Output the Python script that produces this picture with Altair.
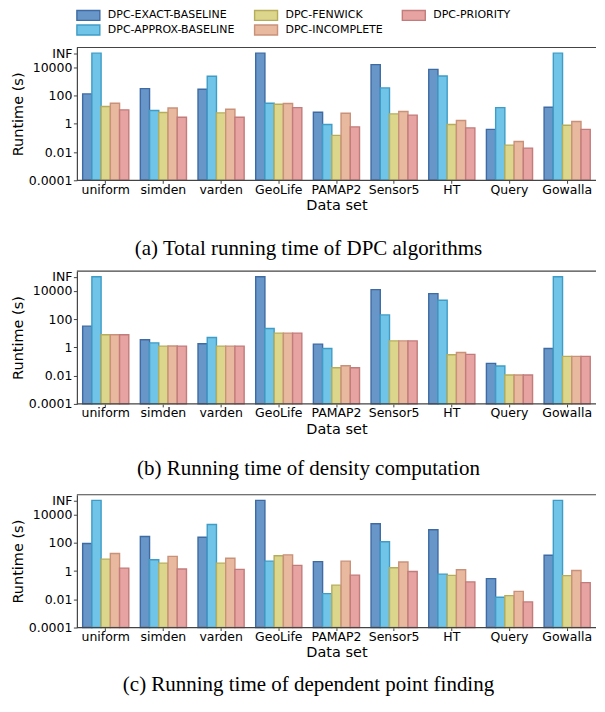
import altair as alt
import pandas as pd

datasets = ["uniform", "simden", "varden", "GeoLife", "PAMAP2", "Sensor5", "HT", "Query", "Gowalla"]
methods = ["DPC-EXACT-BASELINE", "DPC-APPROX-BASELINE", "DPC-FENWICK", "DPC-INCOMPLETE", "DPC-PRIORITY"]
INF = 1e5  # bars drawn up to the "INF" tick

# (a) Total running time
total_exact = [130, 310, 275, INF, 6.6, 15500, 7100, 0.40, 14.8]
total_approx = [INF, 8.7, 2300, 28.5, 0.89, 345, 2400, 14, INF]
total_fenwick = [16.6, 6.3, 5.9, 24, 0.15, 5.0, 0.89, 0.031, 0.79]
total_incomplete = [28.5, 13, 10.7, 27, 5.6, 7.4, 1.7, 0.056, 1.45]
total_priority = [9.6, 2.9, 2.9, 14, 0.6, 4.1, 0.51, 0.019, 0.40]

# (b) Density computation
dens_exact = [32, 3.5, 1.8, INF, 1.7, 12300, 6400, 0.074, 0.83]
dens_approx = [INF, 2.1, 5.0, 22, 0.83, 200, 2200, 0.048, INF]
dens_fenwick = [7.8, 1.24, 1.24, 10.3, 0.036, 2.9, 0.30, 0.011, 0.23]
dens_incomplete = [7.8, 1.25, 1.24, 10.3, 0.05, 2.9, 0.44, 0.011, 0.23]
dens_priority = [7.8, 1.24, 1.24, 10.3, 0.036, 2.9, 0.32, 0.011, 0.23]

# (c) Dependent point finding
dep_exact = [89, 275, 247, INF, 4.6, 2200, 830, 0.29, 13]
dep_approx = [INF, 6.3, 1950, 5.0, 0.025, 117, 0.6, 0.014, INF]
dep_fenwick = [6.9, 3.6, 3.6, 12, 0.10, 1.7, 0.49, 0.018, 0.47]
dep_incomplete = [17.5, 10.8, 8.1, 14, 5.0, 4.3, 1.24, 0.036, 1.1]
dep_priority = [1.6, 1.38, 1.3, 2.5, 0.51, 0.93, 0.17, 0.0065, 0.15]

y_ticks = [0.0001, 0.01, 1, 100, 10000, INF]

fill_colors = ["#6896c9", "#6fc4e7", "#dbd68b", "#e9b99f", "#e6a3a1"]
stroke_colors = ["#3e6ba3", "#3f9cc6", "#b6ad5c", "#c9917a", "#c27c7b"]

PLOT_W = 520
PLOT_H = 133
SPINE = "#444444"


def make_df(series):
    rows = []
    for m, vals in zip(methods, series):
        for d, v in zip(datasets, vals):
            rows.append({"dataset": d, "method": m, "runtime": v})
    return pd.DataFrame(rows)


def panel(series, caption, offset, show_legend):
    df = make_df(series)
    if show_legend:
        leg = alt.Legend(
            orient="none", legendX=5, legendY=-39, columns=3, title=None,
            symbolType="M-2,-0.87L2,-0.87L2,0.87L-2,0.87Z", symbolSize=132,
            symbolStrokeWidth=1.4, labelFont="DejaVu Sans", labelFontSize=11,
            labelColor="black", labelOffset=13, columnPadding=16, rowPadding=-3,
            labelLimit=400, gridAlign="each",
        )
    else:
        leg = None
    bars = alt.Chart(df).mark_bar(strokeWidth=1.4).encode(
        x=alt.X("dataset:N", sort=datasets,
                scale=alt.Scale(paddingInner=0.2, paddingOuter=0.1),
                axis=alt.Axis(title="Data set", labelAngle=0, tickSize=3,
                              labelPadding=0, titlePadding=3, domain=False)),
        xOffset=alt.XOffset("method:N", sort=methods,
                            scale=alt.Scale(paddingInner=0, paddingOuter=0)),
        y=alt.Y("runtime:Q",
                scale=alt.Scale(type="log", domain=[0.0001, 250000]),
                axis=alt.Axis(title="Runtime (s)", values=y_ticks, tickSize=3.5,
                              labelPadding=1.5, titlePadding=3, domain=True,
                              domainColor=SPINE, domainWidth=1.2,
                              labelExpr="datum.value >= 99999 ? 'INF' : datum.value >= 1 ? format(datum.value, 'd') : datum.value >= 0.005 ? '0.01' : '0.0001'")),
        y2=alt.datum(0.0001),
        fill=alt.Fill("method:N", scale=alt.Scale(domain=methods, range=fill_colors), legend=leg),
        stroke=alt.Stroke("method:N", scale=alt.Scale(domain=methods, range=stroke_colors), legend=leg),
    )
    spine_df = pd.DataFrame({"k": [0]})
    top = alt.Chart(spine_df).mark_rule(color=SPINE, strokeWidth=1.2).encode(y=alt.value(0))
    bottom = alt.Chart(spine_df).mark_rule(color=SPINE, strokeWidth=1.2).encode(y=alt.value(PLOT_H))
    return alt.layer(bars, top, bottom).properties(
        width=PLOT_W, height=PLOT_H,
        title=alt.TitleParams(caption, orient="bottom", anchor="middle", dx=-28,
                              font="Liberation Serif", fontSize=21,
                              fontWeight="normal", color="black", offset=offset),
    )


a = panel([total_exact, total_approx, total_fenwick, total_incomplete, total_priority],
          "(a) Total running time of DPC algorithms", 26, True)
b = panel([dens_exact, dens_approx, dens_fenwick, dens_incomplete, dens_priority],
          "(b) Running time of density computation", 22, False)
c = panel([dep_exact, dep_approx, dep_fenwick, dep_incomplete, dep_priority],
          "(c) Running time of dependent point finding", 15, False)

top_pair = alt.vconcat(a, b, spacing=11).resolve_scale(
    fill="independent", stroke="independent"
)

chart = alt.vconcat(top_pair, c, spacing=15).resolve_scale(
    fill="independent", stroke="independent"
).properties(
    padding={"left": 2, "top": 0, "right": 0, "bottom": 0}
).configure_view(
    stroke=None
).configure_axis(
    labelFont="DejaVu Sans", labelFontSize=12.5, labelColor="black",
    titleFont="DejaVu Sans", titleFontSize=14.5, titleFontWeight="normal",
    titleColor="black", grid=False, tickColor=SPINE,
)

chart.save("out.html", embed_options={"renderer": "svg", "actions": False})
